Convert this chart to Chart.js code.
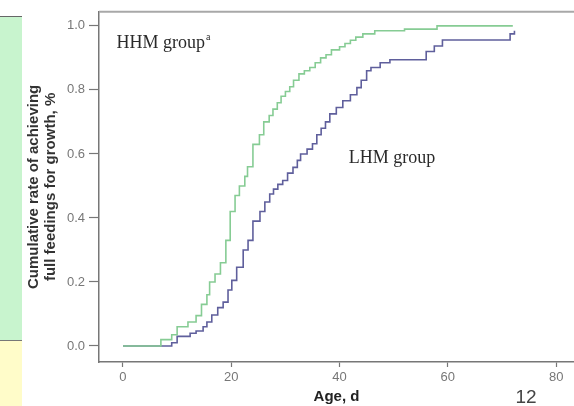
<!DOCTYPE html>
<html>
<head>
<meta charset="utf-8">
<script src="https://cdn.jsdelivr.net/npm/chart.js@4.4.1/dist/chart.umd.min.js"></script>
<style>
  html, body { margin: 0; padding: 0; background: #fff; }
  #wrap { position: relative; width: 574px; height: 406px; overflow: hidden; }
  .side-green { position: absolute; left: 0; top: 16px; width: 22px; height: 323px;
    background: #c8f4ce; border-top: 1px solid #666; border-bottom: 1px solid #777; }
  .side-yellow { position: absolute; left: 0; top: 341px; width: 22px; height: 65px; background: #fffcc9; }
  canvas { position: absolute; left: 0; top: 0; }
</style>
</head>
<body>
<div id="wrap">
  <div class="side-green"></div>
  <div class="side-yellow"></div>
  <canvas id="curveChart" width="574" height="406"></canvas>
</div>
<script>
// step points: day of each jump and cumulative rate after it
const hhmDays = [0, 7, 9, 10, 12, 13.5, 14.5, 15.5, 16, 17, 18, 19, 19.8, 20.7, 21.5, 22.5, 23, 24, 25.2, 26,
  27, 27.7, 28.5, 29.2, 30, 30.8, 31.5, 32.5, 33.5, 34.5, 35.5, 36.5, 37.5, 38.5, 40, 41, 42, 43, 44.3, 46.5,
  52, 58, 72];
const hhmRate = [0, 0.02, 0.035, 0.06, 0.075, 0.095, 0.13, 0.16, 0.2, 0.225, 0.26, 0.33, 0.42, 0.47, 0.5, 0.53, 0.56, 0.63, 0.66, 0.7,
  0.72, 0.74, 0.76, 0.78, 0.795, 0.81, 0.83, 0.85, 0.86, 0.87, 0.885, 0.9, 0.91, 0.925, 0.935, 0.945, 0.955, 0.965, 0.975, 0.985,
  0.99, 1.0, 1.0];

const lhmDays = [0, 9, 10, 12.4, 13.5, 14.8, 15.5, 16.4, 17.5, 18.5, 19.4, 20.1, 21, 22.2, 23.1, 24, 25.3, 26.2, 27.1, 27.8,
  28.6, 29.5, 30.4, 31.4, 32.2, 32.8, 34, 35, 35.8, 36.6, 37.4, 38.2, 39.4, 40.6, 42, 43.2, 44, 45, 45.8, 47.5,
  49.3, 56, 57.5, 59, 71.5, 72.3];
const lhmRate = [0, 0.01, 0.03, 0.04, 0.047, 0.06, 0.075, 0.097, 0.12, 0.137, 0.175, 0.205, 0.246, 0.3, 0.33, 0.39, 0.42, 0.45, 0.475, 0.49,
  0.505, 0.517, 0.54, 0.558, 0.58, 0.6, 0.615, 0.632, 0.66, 0.68, 0.7, 0.725, 0.745, 0.766, 0.785, 0.807, 0.83, 0.86, 0.87, 0.885,
  0.894, 0.92, 0.937, 0.956, 0.975, 0.985];

const xTicks = [0, 20, 40, 60, 80];
const yTicks = [0, 0.2, 0.4, 0.6, 0.8, 1.0];

const toPoints = (days, rates) => days.map((d, i) => ({ x: d, y: rates[i] }));

// group names, page number and top frame line
const labelsPlugin = {
  id: 'groupLabels',
  afterDraw(chart) {
    const { ctx, chartArea: area, scales: { x, y } } = chart;
    ctx.save();
    ctx.strokeStyle = '#a8a8a8';
    ctx.lineWidth = 2;
    ctx.beginPath();
    ctx.moveTo(area.left, area.top);
    ctx.lineTo(area.right, area.top);
    ctx.stroke();

    ctx.fillStyle = '#2a2a2a';
    ctx.font = '18px "Liberation Serif", serif';
    ctx.textBaseline = 'middle';
    ctx.textAlign = 'left';
    const hx = x.getPixelForValue(-1.2), hy = y.getPixelForValue(0.945);
    ctx.fillText('HHM group', hx, hy);
    const w = ctx.measureText('HHM group').width;
    ctx.font = '10px "Liberation Serif", serif';
    ctx.fillText('a', hx + w + 1, hy - 6);
    ctx.font = '18px "Liberation Serif", serif';
    ctx.fillText('LHM group', x.getPixelForValue(41.7), y.getPixelForValue(0.585));

    ctx.fillStyle = '#444';
    ctx.font = '19px "Liberation Sans", Arial, sans-serif';
    ctx.textAlign = 'center';
    ctx.fillText('12', 526, 398);
    ctx.restore();
  }
};

new Chart(document.getElementById('curveChart').getContext('2d'), {
  type: 'line',
  data: {
    datasets: [
      {
        label: 'HHM group',
        data: toPoints(hhmDays, hhmRate),
        borderColor: '#86cc94',
        borderWidth: 1.6,
        stepped: true,
        pointRadius: 0,
        fill: false
      },
      {
        label: 'LHM group',
        data: toPoints(lhmDays, lhmRate),
        borderColor: '#5f5f9c',
        borderWidth: 1.6,
        stepped: true,
        pointRadius: 0,
        fill: false
      }
    ]
  },
  options: {
    responsive: false,
    animation: false,
    layout: { padding: { top: 11, right: 0, left: 0, bottom: 0 } },
    plugins: {
      legend: { display: false },
      tooltip: { enabled: false }
    },
    scales: {
      x: {
        type: 'linear',
        min: -4.43,
        max: 83.3,
        afterFit: s => { s.height = 44; },
        afterBuildTicks: s => { s.ticks = xTicks.map(v => ({ value: v })); },
        grid: { drawOnChartArea: false, tickLength: 5, color: '#777', tickWidth: 1.2 },
        border: { color: '#777', width: 1.5 },
        ticks: { color: '#777', font: { size: 13, family: '"Liberation Sans", Arial, sans-serif' }, padding: 3, maxRotation: 0 },
        title: {
          display: true,
          text: 'Age, d',
          color: '#222',
          font: { size: 15, weight: 'bold', family: '"Liberation Sans", Arial, sans-serif' },
          padding: { top: 0, bottom: 0 }
        }
      },
      y: {
        min: -0.05,
        max: 1.044,
        afterFit: s => { s.width = 99; },
        afterBuildTicks: s => { s.ticks = yTicks.map(v => ({ value: v })); },
        grid: { drawOnChartArea: false, tickLength: 10, color: '#777', tickWidth: 1.2 },
        border: { color: '#777', width: 1.5 },
        ticks: {
          color: '#777',
          font: { size: 13, family: '"Liberation Sans", Arial, sans-serif' },
          padding: 4,
          callback: v => v.toFixed(1)
        },
        title: {
          display: true,
          text: ['Cumulative rate of achieving', 'full feedings for growth, %'],
          color: '#333',
          font: { size: 15, weight: 'bold', family: '"Liberation Sans", Arial, sans-serif', lineHeight: 1.15 },
          padding: { top: 25, bottom: 0 }
        }
      }
    }
  },
  plugins: [labelsPlugin]
});
</script>
</body>
</html>
